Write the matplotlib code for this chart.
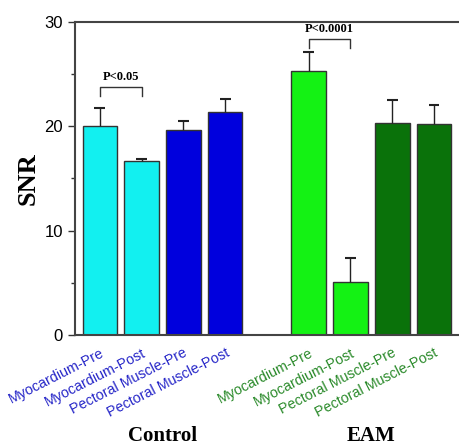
import matplotlib
matplotlib.use('Agg')
import matplotlib.pyplot as plt
from matplotlib.ticker import MultipleLocator

# data
labels = ['Myocardium-Pre', 'Myocardium-Post', 'Pectoral Muscle-Pre', 'Pectoral Muscle-Post',
          'Myocardium-Pre', 'Myocardium-Post', 'Pectoral Muscle-Pre', 'Pectoral Muscle-Post']
positions = [0, 1, 2, 3, 5, 6, 7, 8]
snr = [20.0, 16.7, 19.6, 21.4, 25.3, 5.1, 20.3, 20.2]
snr_err = [1.7, 0.15, 0.9, 1.2, 1.8, 2.3, 2.2, 1.8]
bar_colors = ['#12F0F0', '#12F0F0', '#0000DD', '#0000DD',
              '#14F214', '#14F214', '#0A720A', '#0A720A']
label_colors = ['#2626C8'] * 4 + ['#2A8A2A'] * 4
groups = ['Control', 'EAM']
group_centers = [1.5, 6.5]

# significance brackets: (x1, x2, bracket y, leg bottom, text)
brackets = [(0, 1, 23.75, 22.85, 'P<0.05'),
            (5, 6, 28.4, 27.5, 'P<0.0001')]

fig = plt.figure(figsize=(4.59, 4.46), dpi=100)
ax = fig.add_axes([0.163, 0.249, 0.837, 0.702])

ax.bar(positions, snr, width=0.83, color=bar_colors, edgecolor='#333333',
       linewidth=1.0, zorder=2)

# upper error bars only (stem + cap), no cap at the bar top
tops = [v + e for v, e in zip(snr, snr_err)]
ax.vlines(positions, snr, tops, color='#222222', lw=1.0, zorder=3)
ax.hlines(tops, [p - 0.13 for p in positions], [p + 0.13 for p in positions],
          color='#222222', lw=1.5, zorder=3)

for x1, x2, yb, yl, txt in brackets:
    ax.plot([x1, x1, x2, x2], [yl, yb, yb, yl], color='#333333', lw=1.0)
    ax.text((x1 + x2) / 2, yb + 0.35, txt, ha='center', va='bottom',
            fontsize=9, fontweight='bold', family='Liberation Serif')

ax.set_xlim(-0.6, 8.6)
ax.set_ylim(0, 30)
ax.yaxis.set_major_locator(MultipleLocator(10))
ax.yaxis.set_minor_locator(MultipleLocator(5))
ax.tick_params(axis='y', which='major', direction='out', length=5, width=1,
               labelsize=12, colors='#333333')
ax.tick_params(axis='y', which='minor', direction='out', length=3, width=1, colors='#333333')
for t in ax.get_yticklabels():
    t.set_family('Liberation Sans')
    t.set_color('black')

ax.set_xticks(positions)
ax.set_xticklabels(labels, rotation=27, ha='right', rotation_mode='anchor',
                   fontsize=10.3, family='Liberation Sans')
ax.tick_params(axis='x', length=0, pad=8)
for t, c in zip(ax.get_xticklabels(), label_colors):
    t.set_color(c)

for side in ['left', 'bottom', 'top']:
    ax.spines[side].set_color('#444444')
    ax.spines[side].set_linewidth(1.5)
ax.spines['right'].set_visible(False)

fig.text(0.062, 0.60, 'SNR', rotation=90, ha='center', va='center',
         fontsize=19, fontweight='bold', family='Liberation Serif')

for name, gx in zip(groups, group_centers):
    xf = ax.transData.transform((gx, 0))[0] / fig.bbox.width
    fig.text(xf, 0.012, name, ha='center', va='baseline', fontsize=15,
             fontweight='bold', family='Liberation Serif')

fig.savefig('out.png', dpi=100)
